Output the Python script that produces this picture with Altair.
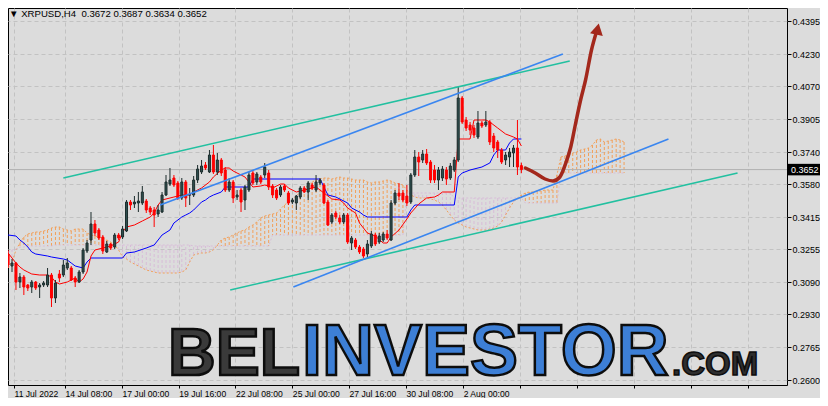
import altair as alt
import pandas as pd

# ---------------- H4 candles ----------------
opens = [0.3230, 0.3170, 0.3185, 0.3090, 0.3115, 0.3075, 0.3065, 0.3090, 0.3065, 0.3075,
         0.3075, 0.3125, 0.3010, 0.3130, 0.3125, 0.3160, 0.3160, 0.3110, 0.3090, 0.3140,
         0.3245, 0.3300, 0.3380, 0.3350, 0.3315, 0.3240, 0.3280, 0.3265, 0.3325, 0.3315,
         0.3345, 0.3490, 0.3480, 0.3485, 0.3485, 0.3495, 0.3460, 0.3450, 0.3430, 0.3440,
         0.3525, 0.3580, 0.3610, 0.3585, 0.3510, 0.3590, 0.3525, 0.3525, 0.3600, 0.3640,
         0.3675, 0.3640, 0.3725, 0.3640, 0.3700, 0.3650, 0.3550, 0.3590, 0.3515, 0.3550,
         0.3500, 0.3550, 0.3635, 0.3590, 0.3615, 0.3625, 0.3635, 0.3570, 0.3550, 0.3525,
         0.3570, 0.3535, 0.3490, 0.3485, 0.3515, 0.3560, 0.3540, 0.3575, 0.3550, 0.3585,
         0.3575, 0.3490, 0.3390, 0.3435, 0.3410, 0.3390, 0.3425, 0.3285, 0.3300, 0.3265,
         0.3255, 0.3230, 0.3270, 0.3325, 0.3290, 0.3300, 0.3330, 0.3300, 0.3485, 0.3535,
         0.3535, 0.3520, 0.3490, 0.3625, 0.3715, 0.3700, 0.3730, 0.3690, 0.3650, 0.3600,
         0.3610, 0.3650, 0.3610, 0.3650, 0.3700, 0.4010, 0.3900, 0.3875, 0.3860, 0.3815,
         0.3885, 0.3875, 0.3890, 0.3820, 0.3790, 0.3750, 0.3700, 0.3715, 0.3735, 0.3760,
         0.3672]
highs = [0.3250, 0.3205, 0.3190, 0.3135, 0.3125, 0.3080, 0.3100, 0.3095, 0.3085, 0.3095,
         0.3160, 0.3135, 0.3100, 0.3150, 0.3200, 0.3210, 0.3170, 0.3120, 0.3150, 0.3260,
         0.3300, 0.3440, 0.3400, 0.3360, 0.3325, 0.3295, 0.3285, 0.3335, 0.3335, 0.3370,
         0.3500, 0.3500, 0.3520, 0.3540, 0.3570, 0.3505, 0.3470, 0.3465, 0.3475, 0.3540,
         0.3625, 0.3660, 0.3625, 0.3595, 0.3610, 0.3600, 0.3560, 0.3620, 0.3675, 0.3700,
         0.3690, 0.3750, 0.3775, 0.3735, 0.3710, 0.3665, 0.3610, 0.3600, 0.3550, 0.3560,
         0.3575, 0.3640, 0.3650, 0.3640, 0.3625, 0.3685, 0.3650, 0.3580, 0.3560, 0.3575,
         0.3580, 0.3545, 0.3510, 0.3525, 0.3570, 0.3570, 0.3595, 0.3585, 0.3625, 0.3610,
         0.3585, 0.3500, 0.3435, 0.3445, 0.3425, 0.3435, 0.3435, 0.3320, 0.3310, 0.3275,
         0.3265, 0.3300, 0.3345, 0.3335, 0.3335, 0.3340, 0.3350, 0.3500, 0.3550, 0.3585,
         0.3550, 0.3575, 0.3635, 0.3750, 0.3740, 0.3750, 0.3755, 0.3700, 0.3675, 0.3665,
         0.3670, 0.3665, 0.3685, 0.3715, 0.4065, 0.4020, 0.3915, 0.3890, 0.3875, 0.3945,
         0.3895, 0.3945, 0.3900, 0.3835, 0.3800, 0.3760, 0.3740, 0.3760, 0.3775, 0.3900,
         0.3687]
lows = [0.3160, 0.3140, 0.3050, 0.3060, 0.3025, 0.3045, 0.3035, 0.3050, 0.3010, 0.3065,
        0.3065, 0.2965, 0.2985, 0.3090, 0.3115, 0.3150, 0.3095, 0.3065, 0.3085, 0.3130,
        0.3235, 0.3275, 0.3320, 0.3300, 0.3230, 0.3235, 0.3250, 0.3255, 0.3300, 0.3305,
        0.3340, 0.3450, 0.3460, 0.3440, 0.3475, 0.3435, 0.3425, 0.3365, 0.3415, 0.3435,
        0.3520, 0.3570, 0.3565, 0.3500, 0.3500, 0.3465, 0.3475, 0.3515, 0.3585, 0.3630,
        0.3650, 0.3635, 0.3630, 0.3625, 0.3620, 0.3540, 0.3540, 0.3485, 0.3500, 0.3440,
        0.3450, 0.3540, 0.3575, 0.3575, 0.3580, 0.3610, 0.3550, 0.3510, 0.3500, 0.3515,
        0.3540, 0.3475, 0.3480, 0.3450, 0.3505, 0.3535, 0.3500, 0.3550, 0.3540, 0.3575,
        0.3480, 0.3370, 0.3380, 0.3405, 0.3380, 0.3380, 0.3280, 0.3250, 0.3255, 0.3230,
        0.3210, 0.3215, 0.3260, 0.3270, 0.3280, 0.3290, 0.3300, 0.3295, 0.3475, 0.3500,
        0.3490, 0.3470, 0.3480, 0.3615, 0.3620, 0.3685, 0.3675, 0.3585, 0.3585, 0.3550,
        0.3595, 0.3575, 0.3600, 0.3640, 0.3690, 0.3880, 0.3845, 0.3825, 0.3810, 0.3805,
        0.3860, 0.3865, 0.3775, 0.3740, 0.3710, 0.3680, 0.3675, 0.3665, 0.3665, 0.3625,
        0.3634]
closes = [0.3175, 0.3185, 0.3090, 0.3115, 0.3065, 0.3060, 0.3090, 0.3060, 0.3075, 0.3085,
          0.3125, 0.3010, 0.3085, 0.3110, 0.3175, 0.3185, 0.3100, 0.3090, 0.3140, 0.3250,
          0.3285, 0.3380, 0.3335, 0.3310, 0.3245, 0.3280, 0.3260, 0.3325, 0.3310, 0.3355,
          0.3490, 0.3475, 0.3490, 0.3495, 0.3540, 0.3450, 0.3440, 0.3425, 0.3450, 0.3525,
          0.3590, 0.3600, 0.3575, 0.3510, 0.3590, 0.3510, 0.3525, 0.3600, 0.3655, 0.3670,
          0.3660, 0.3725, 0.3640, 0.3700, 0.3635, 0.3550, 0.3590, 0.3510, 0.3525, 0.3490,
          0.3565, 0.3625, 0.3585, 0.3630, 0.3590, 0.3665, 0.3565, 0.3525, 0.3510, 0.3565,
          0.3550, 0.3485, 0.3500, 0.3520, 0.3560, 0.3540, 0.3585, 0.3560, 0.3590, 0.3600,
          0.3485, 0.3375, 0.3425, 0.3415, 0.3390, 0.3425, 0.3290, 0.3310, 0.3265, 0.3240,
          0.3220, 0.3280, 0.3330, 0.3280, 0.3320, 0.3330, 0.3310, 0.3485, 0.3535, 0.3520,
          0.3500, 0.3485, 0.3625, 0.3715, 0.3690, 0.3730, 0.3685, 0.3600, 0.3600, 0.3650,
          0.3655, 0.3605, 0.3670, 0.3700, 0.4010, 0.3890, 0.3860, 0.3850, 0.3825, 0.3885,
          0.3870, 0.3890, 0.3790, 0.3760, 0.3750, 0.3690, 0.3725, 0.3740, 0.3760, 0.3665,
          0.3652]

# ---------------- Ichimoku cloud (Senkou A / B, shifted 26 bars ahead) ----------------
span_a = [0.3160, 0.3190, 0.3250, 0.3285, 0.3315, 0.3330, 0.3335, 0.3340, 0.3340, 0.3345,
          0.3350, 0.3360, 0.3365, 0.3365, 0.3355, 0.3350, 0.3345, 0.3355, 0.3355, 0.3355,
          0.3335, 0.3325, 0.3320, 0.3315, 0.3310, 0.3300, 0.3290, 0.3275, 0.3250, 0.3215,
          0.3205, 0.3190, 0.3180, 0.3170, 0.3160, 0.3150, 0.3145, 0.3140, 0.3135, 0.3135,
          0.3135, 0.3135, 0.3135, 0.3135, 0.3140, 0.3150, 0.3190, 0.3225, 0.3230, 0.3235,
          0.3235, 0.3240, 0.3250, 0.3275, 0.3300, 0.3310, 0.3315, 0.3325, 0.3335, 0.3345,
          0.3350, 0.3365, 0.3375, 0.3390, 0.3410, 0.3420, 0.3425, 0.3430, 0.3435, 0.3455,
          0.3475, 0.3490, 0.3500, 0.3520, 0.3540, 0.3555, 0.3575, 0.3590, 0.3600, 0.3605,
          0.3610, 0.3610, 0.3605, 0.3610, 0.3615, 0.3610, 0.3610, 0.3605, 0.3600, 0.3600,
          0.3600, 0.3590, 0.3585, 0.3590, 0.3590, 0.3595, 0.3600, 0.3595, 0.3585, 0.3580,
          0.3575, 0.3550, 0.3525, 0.3515, 0.3510, 0.3510, 0.3510, 0.3505, 0.3500, 0.3490,
          0.3475, 0.3450, 0.3425, 0.3400, 0.3385, 0.3375, 0.3365, 0.3360, 0.3355, 0.3350,
          0.3350, 0.3350, 0.3355, 0.3360, 0.3370, 0.3390, 0.3425, 0.3460, 0.3490, 0.3510,
          0.3525, 0.3535, 0.3540, 0.3540, 0.3545, 0.3545, 0.3550, 0.3550, 0.3550, 0.3625,
          0.3715, 0.3720, 0.3725, 0.3735, 0.3740, 0.3750, 0.3755, 0.3760, 0.3775, 0.3800,
          0.3805, 0.3790, 0.3795, 0.3800, 0.3805, 0.3800, 0.3790]
span_b = [0.3240, 0.3250, 0.3255, 0.3265, 0.3265,
          0.3270, 0.3270, 0.3270, 0.3270, 0.3270, 0.3270, 0.3270,
          0.3275, 0.3275, 0.3275, 0.3275, 0.3275, 0.3275, 0.3275, 0.3275, 0.3275, 0.3275,
          0.3275, 0.3275, 0.3275, 0.3275, 0.3275, 0.3275, 0.3275, 0.3275, 0.3275, 0.3275,
          0.3275, 0.3275, 0.3275, 0.3275, 0.3275, 0.3275, 0.3275, 0.3275, 0.3275, 0.3275,
          0.3275, 0.3275, 0.3275, 0.3275, 0.3275,
          0.3270, 0.3270, 0.3270, 0.3270, 0.3270, 0.3270, 0.3270, 0.3270, 0.3270, 0.3270,
          0.3270, 0.3270, 0.3270, 0.3270, 0.3270, 0.3270, 0.3270, 0.3270, 0.3270, 0.3270,
          0.3325, 0.3325, 0.3325, 0.3325, 0.3325, 0.3325, 0.3325, 0.3325, 0.3325, 0.3325,
          0.3325, 0.3325, 0.3325, 0.3325, 0.3325, 0.3325, 0.3325, 0.3325, 0.3325, 0.3325,
          0.3325, 0.3325, 0.3325, 0.3325, 0.3325, 0.3325, 0.3325, 0.3325, 0.3325, 0.3325,
          0.3325, 0.3325, 0.3325, 0.3325,
          0.3535, 0.3535, 0.3535, 0.3535, 0.3535, 0.3535, 0.3535, 0.3535, 0.3535, 0.3535,
          0.3535, 0.3535,
          0.3510, 0.3510, 0.3510, 0.3510, 0.3510, 0.3510, 0.3510, 0.3510, 0.3510, 0.3510,
          0.3510, 0.3510, 0.3510, 0.3510, 0.3510, 0.3510, 0.3510, 0.3510,
          0.3485, 0.3485, 0.3485, 0.3485, 0.3485, 0.3485, 0.3485, 0.3485, 0.3485,
          0.3635, 0.3635, 0.3635, 0.3635, 0.3635, 0.3635, 0.3635, 0.3635, 0.3635, 0.3635,
          0.3635, 0.3635, 0.3635, 0.3635, 0.3635, 0.3635, 0.3635]

# ---------------- Tenkan (red) and Kijun (blue) vertices ----------------
tenkan_i = [0, 2, 3, 4, 5, 6, 8, 10, 11, 12, 13, 14, 15, 16, 17, 18, 19, 20, 21, 22,
            24, 26, 27, 28, 29, 30, 32, 34, 36, 37, 38, 39, 41, 42, 44, 46, 47, 49, 51, 52,
            54, 55, 56, 57, 58, 59, 60, 61, 62, 64, 65, 66, 67, 69, 70, 71, 73, 74, 75, 77,
            78, 79, 80, 82, 84, 85, 86, 88, 89, 90, 91, 93, 95, 96, 97, 99, 101, 102, 104, 106,
            108, 109, 110, 113, 114, 117, 118, 121, 122, 124, 126, 128, 129, 130]
tenkan_v = [0.3235, 0.3185, 0.3165, 0.3150, 0.3140, 0.3130, 0.3125, 0.3125, 0.3115, 0.3090,
            0.3080, 0.3085, 0.3090, 0.3100, 0.3110, 0.3090, 0.3105, 0.3140, 0.3220, 0.3250,
            0.3260, 0.3270, 0.3280, 0.3290, 0.3340, 0.3365, 0.3375, 0.3395, 0.3415, 0.3435,
            0.3475, 0.3500, 0.3510, 0.3515, 0.3525, 0.3525, 0.3540, 0.3560, 0.3590, 0.3615,
            0.3650, 0.3660, 0.3660, 0.3645, 0.3635, 0.3625, 0.3615, 0.3590, 0.3565, 0.3570,
            0.3575, 0.3570, 0.3560, 0.3580, 0.3580, 0.3560, 0.3540, 0.3545, 0.3550, 0.3560,
            0.3565, 0.3550, 0.3535, 0.3505, 0.3500, 0.3485, 0.3460, 0.3435, 0.3385, 0.3360,
            0.3335, 0.3320, 0.3285, 0.3285, 0.3315, 0.3350, 0.3405, 0.3435, 0.3480, 0.3510,
            0.3515, 0.3525, 0.3540, 0.3540, 0.3805, 0.3805, 0.3900, 0.3900, 0.3890, 0.3860,
            0.3830, 0.3815, 0.3805, 0.3770]
kijun_i = [0, 2, 3, 4, 5, 6, 7, 10, 11, 14, 15, 16, 17, 19, 20, 21, 29, 30, 32, 35,
           37, 38, 39, 41, 42, 44, 45, 46, 47, 49, 50, 51, 52, 54, 55, 61, 62, 79, 80, 81,
           83, 86, 87, 89, 90, 91, 101, 102, 103, 113, 114, 115, 117, 120, 122, 123, 124, 126, 127, 128,
           130]
kijun_v = [0.3325, 0.3320, 0.3300, 0.3285, 0.3265, 0.3240, 0.3230, 0.3220, 0.3215, 0.3205,
           0.3200, 0.3185, 0.3170, 0.3160, 0.3190, 0.3210, 0.3210, 0.3235, 0.3240, 0.3260,
           0.3275, 0.3300, 0.3325, 0.3350, 0.3385, 0.3415, 0.3425, 0.3435, 0.3450, 0.3490,
           0.3500, 0.3515, 0.3525, 0.3540, 0.3565, 0.3565, 0.3605, 0.3605, 0.3565, 0.3525,
           0.3515, 0.3485, 0.3460, 0.3440, 0.3425, 0.3415, 0.3415, 0.3450, 0.3475, 0.3475,
           0.3615, 0.3635, 0.3650, 0.3665, 0.3685, 0.3725, 0.3750, 0.3750, 0.3785, 0.3805,
           0.3805]

# ---------------- drawn trend channels and forecast arrow ----------------
trend_names = ["teal_up", "teal_up", "blue_up", "blue_up", "blue_low", "blue_low", "teal_low", "teal_low"]
trend_i = [14.0, 142.25, 38.5, 140.5, 72.25, 167.25, 56.25, 184.75]
trend_p = [0.3610, 0.4195, 0.3475, 0.4230, 0.3065, 0.3805, 0.3050, 0.3635]
arrow_i = [131.0, 133.5, 136.0, 138.0, 139.75, 141.25, 142.5, 143.75, 145.0, 146.25, 147.75, 149.0]
arrow_p = [0.3660, 0.3635, 0.3605, 0.3595, 0.3615, 0.3685, 0.3765, 0.3885, 0.4000, 0.4100, 0.4250, 0.4340]
arrow_tip_i = [149.3]
arrow_tip_p = [0.4355]

# ---------------- axes ----------------
x_tick_pos = [1.5, 14.43, 28.83, 43.25, 57.58, 72.0, 86.33, 100.75, 115.25,
              129.67, 144.08, 158.5, 172.92, 187.33]
x_tick_labels = ["11 Jul 2022", "14 Jul 08:00", "17 Jul 00:00", "19 Jul 16:00", "22 Jul 08:00",
                 "25 Jul 00:00", "27 Jul 16:00", "30 Jul 08:00", "2 Aug 00:00", "", "", "", "", ""]
y_ticks = [0.4395, 0.4230, 0.4070, 0.3905, 0.3740, 0.3580, 0.3415, 0.3255, 0.3090, 0.2930, 0.2765, 0.2600]

symbol = "XRPUSD,H4"
watermark = ["BEL", "INVESTOR", ".COM"]

W, H = 779, 377
FONT = "Liberation Sans, DejaVu Sans, sans-serif"
BG = "#dcdcdc"
GRID = "#c2c2c2"
ORANGE = "#f2a05a"
THISTLE = "#d8bcd8"

xs = alt.Scale(domain=[1.25, 196.0], nice=False, zero=False)
ys = alt.Scale(domain=[0.2575, 0.446], nice=False, zero=False)

label_expr = ("[" + ",".join(repr(s) for s in x_tick_labels) + "][indexof(["
              + ",".join(str(v) for v in x_tick_pos) + "], datum.value)]")

x_axis = alt.Axis(values=x_tick_pos, labelExpr=label_expr, orient="bottom", title=None,
                  grid=True, gridColor=GRID, gridDash=[4, 3], gridWidth=1,
                  tickSize=3, tickColor="black", domain=False,
                  labelAlign="left", labelBaseline="top", labelPadding=1,
                  labelFont=FONT, labelFontSize=8.6, labelColor="black",
                  labelFlush=False, labelOverlap=False, labelBound=False)
y_axis = alt.Axis(values=y_ticks, format=".4f", orient="right", title=None,
                  grid=True, gridColor=GRID, gridDash=[4, 3], gridWidth=1,
                  tickSize=4, tickColor="black", domain=False,
                  labelAlign="left", labelBaseline="middle", labelPadding=1,
                  labelFont=FONT, labelFontSize=9, labelColor="black",
                  labelFlush=False, labelOverlap=False, labelBound=False)


def X(f):
    return alt.X(f, type="quantitative", scale=xs, axis=x_axis)


def Y(f):
    return alt.Y(f, type="quantitative", scale=ys, axis=y_axis)


# ---------------- data frames ----------------
candles = pd.DataFrame({"i": list(range(len(opens))), "open": opens, "high": highs,
                        "low": lows, "close": closes})
cloud = pd.DataFrame({"i": list(range(len(span_a))), "A": span_a, "B": span_b})
cloud["kind"] = ["up" if a > b else "down" for a, b in zip(span_a, span_b)]
tenkan_df = pd.DataFrame({"i": tenkan_i, "v": tenkan_v})
kijun_df = pd.DataFrame({"i": kijun_i, "v": kijun_v})
trend_df = pd.DataFrame({"name": trend_names, "i": trend_i, "p": trend_p})
arrow_df = pd.DataFrame({"i": arrow_i, "p": arrow_p})
tip_df = pd.DataFrame({"i": arrow_tip_i, "p": arrow_tip_p})
last = pd.DataFrame({"p": [closes[-1]], "lab": [f"{closes[-1]:.4f}"]})
header = pd.DataFrame({"t": ["\u25bc " + symbol + "\u00a0\u00a0" + " ".join(
    f"{v:.4f}" for v in (opens[-1], highs[-1], lows[-1], closes[-1]))]})

# ---------------- layers ----------------
hatch_up = alt.Chart(cloud).transform_filter("datum.kind == 'up'").mark_rule(
    color=ORANGE, strokeDash=[3, 2], strokeWidth=1, clip=True).encode(x=X("i"), y=Y("A"), y2="B")
hatch_down = alt.Chart(cloud).transform_filter("datum.kind == 'down'").mark_rule(
    color=THISTLE, strokeDash=[3, 2], strokeWidth=1, clip=True).encode(x=X("i"), y=Y("A"), y2="B")
line_a = alt.Chart(cloud).mark_line(color=ORANGE, strokeDash=[2, 2], strokeWidth=1, clip=True).encode(
    x=X("i"), y=Y("A"))
line_b = alt.Chart(cloud).mark_line(color=THISTLE, strokeDash=[2, 2], strokeWidth=1, clip=True).encode(
    x=X("i"), y=Y("B"))

price_line = alt.Chart(last).mark_rule(color="#b0b0b0", strokeWidth=1).encode(y=Y("p"))

kijun = alt.Chart(kijun_df).mark_line(color="#0000ff", strokeWidth=1, clip=True).encode(x=X("i"), y=Y("v"))
tenkan = alt.Chart(tenkan_df).mark_line(color="#ff0000", strokeWidth=1, clip=True).encode(x=X("i"), y=Y("v"))

bull = "datum.close >= datum.open"
wicks = alt.Chart(candles).mark_rule(strokeWidth=1, clip=True).encode(
    x=X("i"), y=Y("low"), y2="high",
    color=alt.condition(bull, alt.value("#1c2c2c"), alt.value("#ff0000")))
bodies = alt.Chart(candles).mark_bar(size=2, strokeWidth=1, clip=True).encode(
    x=X("i"), y=Y("open"), y2="close",
    fill=alt.condition(bull, alt.value("#2f5050"), alt.value("#ff0000")),
    stroke=alt.condition(bull, alt.value("#1c2c2c"), alt.value("#ff0000")))

trend_teal = alt.Chart(trend_df).transform_filter("indexof(datum.name, 'teal') == 0").mark_line(
    color="#22c0a0", strokeWidth=1.6, clip=True).encode(x=X("i"), y=Y("p"), detail="name:N")
trend_blue = alt.Chart(trend_df).transform_filter("indexof(datum.name, 'blue') == 0").mark_line(
    color="#3a86f0", strokeWidth=1.6, clip=True).encode(x=X("i"), y=Y("p"), detail="name:N")

arrow = alt.Chart(arrow_df).mark_line(color="#a3281c", strokeWidth=3.5, interpolate="monotone",
                                      strokeCap="round", clip=True).encode(x=X("i"), y=Y("p"))
arrow_head = alt.Chart(tip_df).mark_point(shape="triangle-up", filled=True, size=170, color="#a3281c",
                                          opacity=1, angle=12).encode(x=X("i"), y=Y("p"))

price_box = alt.Chart(last).mark_point(shape="M-1,-0.36L1,-0.36L1,0.36L-1,0.36Z", size=1024,
                                       filled=True, color="black", opacity=1, strokeWidth=0).encode(
    x=alt.value(W + 17), y=Y("p"))
price_text = alt.Chart(last).mark_text(align="left", baseline="middle", color="white", font=FONT,
                                       fontSize=9).encode(x=alt.value(W + 4), y=Y("p"), text="lab:N")

header_txt = alt.Chart(header).mark_text(align="left", baseline="alphabetic", color="black", font=FONT,
                                         fontSize=9.6).encode(x=alt.value(1), y=alt.value(9), text="t:N")

WM_FONT = "Liberation Sans, Arial, sans-serif"
WM_BASE = 367
wm_bel = alt.Chart(pd.DataFrame({"t": [watermark[0]]})).mark_text(
    align="left", baseline="alphabetic", font=WM_FONT, fontWeight="bold", fontSize=66,
    fill="#3a3a3a", stroke="#0d0d0d", strokeWidth=2.5).encode(x=alt.value(160), y=alt.value(WM_BASE), text="t:N")
wm_inv = alt.Chart(pd.DataFrame({"t": [watermark[1]]})).mark_text(
    align="left", baseline="alphabetic", font=WM_FONT, fontWeight="bold", fontSize=72,
    fill="#3d7fd6", stroke="#0d0d0d", strokeWidth=2.5).encode(x=alt.value(294), y=alt.value(WM_BASE), text="t:N")
wm_com = alt.Chart(pd.DataFrame({"t": [watermark[2]]})).mark_text(
    align="left", baseline="alphabetic", font=WM_FONT, fontWeight="bold", fontSize=33,
    fill="#2e2e2e", stroke="#0d0d0d", strokeWidth=1.5).encode(x=alt.value(664), y=alt.value(WM_BASE), text="t:N")

chart = alt.layer(
    hatch_up, hatch_down, line_a, line_b, price_line, kijun, tenkan, wicks, bodies,
    trend_teal, trend_blue, arrow, arrow_head, price_box, price_text, header_txt,
    wm_bel, wm_inv, wm_com
).properties(
    width=W, height=H,
    autosize=alt.AutoSizeParams(type="none"),
    padding={"left": 0, "top": 0, "right": 33, "bottom": 13},
    background=BG,
).configure_view(stroke="black", strokeWidth=1)

chart.save("out.html", embed_options={"renderer": "svg", "actions": False})
